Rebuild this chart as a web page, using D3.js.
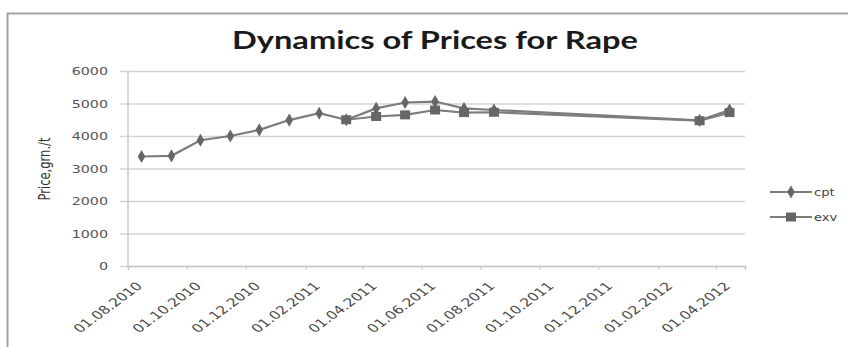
<!DOCTYPE html>
<html>
<head>
<meta charset="utf-8">
<script src="https://cdn.jsdelivr.net/npm/d3@7"></script>
<style>
  html, body { margin: 0; padding: 0; background: #fff; }
  svg { display: block; }
  text { font-family: "DejaVu Sans", sans-serif; }
</style>
</head>
<body>
<div id="chart"></div>
<script>
// Monthly rape seed prices, grn./t
const cptDates = ["15.08.2010","15.09.2010","15.10.2010","15.11.2010","15.12.2010","15.01.2011","15.02.2011",
                  "15.03.2011","15.04.2011","15.05.2011","15.06.2011","15.07.2011","15.08.2011","15.03.2012","15.04.2012"];
const cptValues = [3370, 3390, 3870, 4000, 4190, 4490, 4700, 4500, 4850, 5030, 5060, 4850, 4800, 4480, 4800];

const exvDates = ["15.03.2011","15.04.2011","15.05.2011","15.06.2011","15.07.2011","15.08.2011","15.03.2012","15.04.2012"];
const exvValues = [4500, 4600, 4650, 4800, 4720, 4730, 4470, 4720];

const xTickLabels = ["01.08.2010","01.10.2010","01.12.2010","01.02.2011","01.04.2011","01.06.2011",
                     "01.08.2011","01.10.2011","01.12.2011","01.02.2012","01.04.2012"];
const yTicks = [0, 1000, 2000, 3000, 4000, 5000, 6000];
const seriesNames = ["cpt", "exv"];
const titleText = "Dynamics of Prices for Rape";
const yTitle = "Price,grn./t";

const W = 848, H = 347;
const stretch = 1.36;               // horizontal text widening
const parse = d3.timeParse("%d.%m.%Y");
const fmt = d3.timeFormat("%d.%m.%Y");

const svg = d3.select("#chart").append("svg").attr("width", W).attr("height", H);

// outer chart frame
svg.append("rect").attr("x", 7.5).attr("y", 13.5).attr("width", W + 20).attr("height", H + 20)
  .attr("fill", "#fff").attr("stroke", "#a3a3a3").attr("stroke-width", 2);

const x = d3.scaleTime().domain([parse("01.08.2010"), parse("01.05.2012")]).range([128, 745]);
const y = d3.scaleLinear().domain([0, 6000]).range([266, 71]);

// title
svg.append("text").text(titleText)
  .attr("transform", `translate(435,49) scale(1.36,1)`)
  .attr("text-anchor", "middle")
  .style("font-family", "Lato, 'Open Sans', sans-serif")
  .style("font-weight", "bold").style("font-size", "24px").attr("fill", "#1a1a1a");

// gridlines + y axis
const yAxis = svg.append("g").attr("transform", "translate(128,0)")
  .call(d3.axisLeft(y).tickValues(yTicks).tickSize(-(745 - 128)).tickPadding(20).tickFormat(d => d));
yAxis.select(".domain").remove();
yAxis.selectAll(".tick line").attr("stroke", "#d4d4d4").attr("stroke-width", 1.5).attr("x1", -8);
yAxis.selectAll(".tick text")
  .attr("fill", "#555").style("font-size", "10.5px")
  .attr("x", 0).attr("dy", "0.35em")
  .attr("transform", `translate(-20,0) scale(${stretch},1)`);
svg.append("line").attr("x1", 128).attr("x2", 128).attr("y1", 71).attr("y2", 266)
  .attr("stroke", "#c8c8c8").attr("stroke-width", 1.5);

// x axis
const xAxis = svg.append("g").attr("transform", "translate(0,266)")
  .call(d3.axisBottom(x).tickValues(xTickLabels.map(parse)).tickFormat(fmt).tickSize(4));
xAxis.select(".domain").attr("stroke", "#c8c8c8").attr("stroke-width", 1.5);
xAxis.selectAll(".tick line").attr("stroke", "#c8c8c8");
xAxis.selectAll(".tick text")
  .attr("fill", "#4a4a4a").style("font-size", "11.5px")
  .attr("x", 0).attr("y", 0).attr("dy", "0.35em")
  .attr("text-anchor", "end")
  .attr("transform", `translate(11,18) scale(${stretch},1) rotate(-45)`);

// y axis title
svg.append("text").text(yTitle)
  .attr("transform", `translate(50,169) scale(${stretch},1) rotate(-90)`)
  .attr("text-anchor", "middle").style("font-size", "11.5px").attr("fill", "#333");

// series
const line = d3.line().x(d => x(d.date)).y(d => y(d.value));
const cpt = cptDates.map((d, i) => ({ date: parse(d), value: cptValues[i] }));
const exv = exvDates.map((d, i) => ({ date: parse(d), value: exvValues[i] }));

const lineColor = "#7d7d7d", markColor = "#666";

svg.append("path").datum(cpt).attr("d", line).attr("fill", "none")
  .attr("stroke", lineColor).attr("stroke-width", 2.2);
svg.append("path").datum(exv).attr("d", line).attr("fill", "none")
  .attr("stroke", lineColor).attr("stroke-width", 2.2);

const diamond = d3.symbol().type(d3.symbolDiamond).size(50);
svg.append("g").selectAll("path").data(cpt).join("path")
  .attr("d", diamond).attr("transform", d => `translate(${x(d.date)},${y(d.value)})`)
  .attr("fill", markColor);
svg.append("g").selectAll("rect").data(exv).join("rect")
  .attr("x", d => x(d.date) - 5).attr("y", d => y(d.value) - 4.5)
  .attr("width", 10).attr("height", 9).attr("fill", markColor);

// legend
const lg = svg.append("g");
seriesNames.forEach((name, i) => {
  const ly = 192 + i * 25;
  lg.append("line").attr("x1", 770).attr("x2", 812).attr("y1", ly).attr("y2", ly)
    .attr("stroke", lineColor).attr("stroke-width", 2.2);
  if (i === 0) {
    lg.append("path").attr("d", diamond).attr("transform", `translate(791,${ly})`).attr("fill", markColor);
  } else {
    lg.append("rect").attr("x", 786).attr("y", ly - 4.5).attr("width", 10).attr("height", 9).attr("fill", markColor);
  }
  lg.append("text").text(name).attr("x", 0).attr("y", 0).attr("dy", "0.35em")
    .attr("transform", `translate(814,${ly}) scale(1.25,1)`)
    .style("font-size", "10.5px").attr("fill", "#444");
});
</script>
</body>
</html>
